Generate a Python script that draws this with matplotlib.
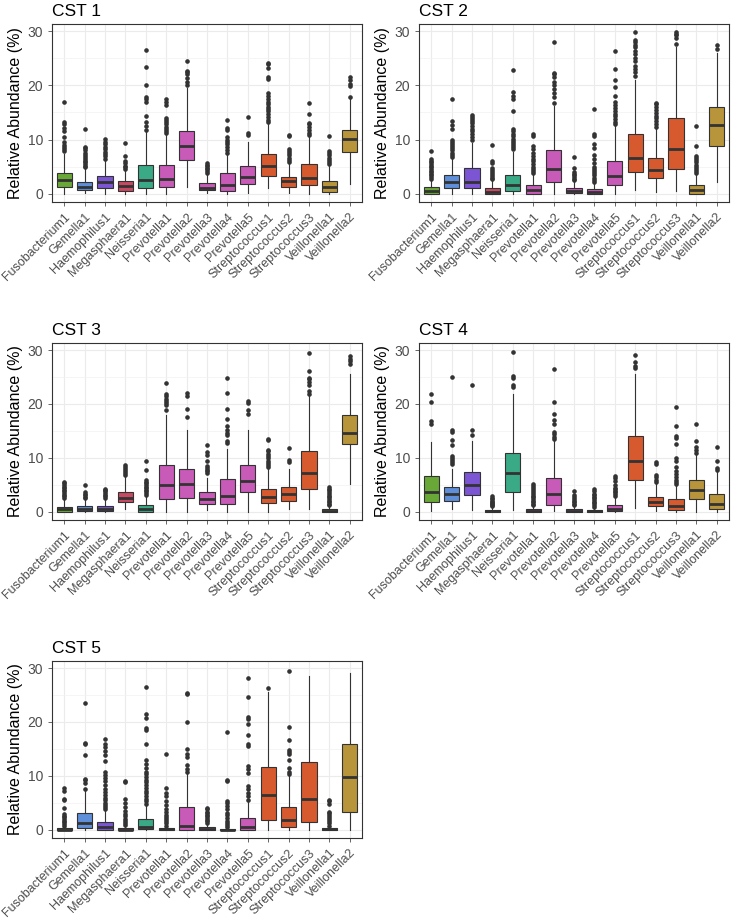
import matplotlib
matplotlib.use("Agg")
import matplotlib.pyplot as plt

plt.rcParams["font.family"] = ["Liberation Sans", "DejaVu Sans"]

taxa = ["Fusobacterium1", "Gemella1", "Haemophilus1", "Megasphaera1", "Neisseria1",
        "Prevotella1", "Prevotella2", "Prevotella3", "Prevotella4", "Prevotella5",
        "Streptococcus1", "Streptococcus2", "Streptococcus3", "Veillonella1", "Veillonella2"]

genus_colors = {
    "Fusobacterium": "#69a837", "Gemella": "#5f8fd8", "Haemophilus": "#7b55d3",
    "Megasphaera": "#c84a62", "Neisseria": "#3aa985", "Prevotella": "#c85ab8",
    "Streptococcus": "#d65a2e", "Veillonella": "#b8953b",
}

panels = ["CST 1", "CST 2", "CST 3", "CST 4", "CST 5"]

# ---- CST 1 ----
cst1_low = [0.0, 0.1, 0.0, 0.0, 0.0, 0.0, 1.2, 0.1, 0.0, 0.2, 1.0, 0.2, 0.0, 0.0, 1.8]
cst1_q1 = [1.23, 0.74, 1.1, 0.6, 1.0, 1.3, 6.2, 0.7, 0.6, 1.85, 3.3, 1.3, 1.6, 0.37, 7.65]
cst1_med = [2.6, 1.23, 2.1, 1.4, 2.5, 2.65, 8.8, 1.1, 1.7, 3.1, 5.1, 2.3, 3.0, 1.2, 10.05]
cst1_q3 = [3.77, 2.1, 3.33, 2.35, 5.37, 5.3, 11.6, 2.0, 3.8, 5.1, 7.3, 3.15, 5.55, 2.4, 11.8]
cst1_high = [7.3, 4.7, 6.3, 4.5, 11.4, 11.0, 19.5, 3.8, 7.4, 9.6, 13.0, 5.7, 10.5, 5.3, 17.5]
cst1_out = [
    [7.9, 8.3, 8.7, 9.0, 9.5, 10.4, 11.5, 12.1, 12.8, 13.2, 17.0],
    [4.9, 5.2, 5.5, 5.8, 6.1, 6.4, 6.8, 7.2, 7.6, 8.0, 8.4, 8.7, 11.9],
    [6.5, 6.9, 7.3, 7.8, 8.3, 8.7, 9.1, 9.6, 10.1],
    [4.6, 4.9, 5.2, 5.6, 6.0, 7.0, 9.3],
    [11.8, 12.5, 13.3, 14.4, 17.0, 17.4, 17.8, 20.0, 23.3, 26.6],
    [11.2, 11.6, 12.0, 12.4, 12.8, 13.2, 13.6, 14.0, 16.3, 17.0, 17.5],
    [20.0, 20.6, 21.3, 22.0, 22.4, 22.7, 24.5],
    [3.9, 4.2, 4.5, 4.8, 5.1, 5.4, 5.7],
    [7.6, 8.0, 8.6, 9.2, 9.6, 10.0, 10.5, 11.7, 12.1, 13.6],
    [10.8, 11.2, 14.2],
    [13.2, 13.7, 14.2, 14.8, 15.2, 15.6, 16.0, 16.5, 17.0, 17.5, 18.0, 18.6, 21.2, 21.5, 23.2, 24.0, 24.2],
    [5.9, 6.3, 6.7, 7.1, 7.5, 7.9, 8.2, 10.6, 10.9],
    [10.8, 11.3, 11.8, 12.3, 12.8, 13.1, 14.8, 16.8],
    [5.5, 5.9, 6.3, 6.7, 7.1, 7.5, 7.9, 10.6],
    [17.9, 19.8, 20.2, 21.0, 21.5],
]

# ---- CST 2 ----
cst2_low = [0.0, 0.0, 0.0, 0.0, 0.0, 0.0, 0.0, 0.0, 0.0, 0.0, 0.8, 0.3, 0.6, 0.0, 2.1]
cst2_q1 = [0.0, 1.1, 1.0, 0.0, 0.5, 0.05, 2.15, 0.1, 0.0, 1.6, 3.95, 2.85, 4.55, 0.0, 8.75]
cst2_med = [0.55, 2.1, 2.2, 0.35, 1.65, 0.7, 4.5, 0.5, 0.35, 3.25, 6.7, 4.4, 8.25, 0.8, 12.7]
cst2_q3 = [1.2, 3.4, 4.7, 1.05, 3.45, 1.55, 8.0, 1.05, 0.9, 6.05, 11.05, 6.6, 13.9, 1.65, 16.0]
cst2_high = [2.6, 6.6, 9.4, 2.5, 7.8, 3.6, 16.2, 2.3, 2.0, 12.5, 21.0, 12.0, 27.0, 3.6, 26.0]
cst2_out = [
    [2.8, 3.1, 3.4, 3.7, 4.0, 4.3, 4.6, 4.9, 5.2, 5.5, 5.8, 6.1, 6.4, 7.9],
    [6.8, 7.2, 7.6, 8.0, 8.4, 8.8, 9.2, 9.6, 10.0, 12.0, 12.7, 13.4, 17.5],
    [10.0, 10.5, 11.0, 11.5, 12.0, 12.5, 13.0, 13.4, 13.8, 14.2, 14.6],
    [2.7, 3.0, 3.3, 3.6, 4.0, 4.4, 4.8, 5.6, 6.1, 9.0],
    [8.2, 8.6, 9.0, 9.4, 9.8, 10.2, 10.6, 11.0, 11.6, 12.0, 15.2, 17.4, 18.0, 18.8, 22.8],
    [3.8, 4.2, 4.6, 5.0, 5.5, 6.0, 6.5, 7.0, 7.6, 8.2, 8.8, 10.6, 11.0],
    [16.8, 17.8, 18.6, 19.4, 20.0, 20.7, 21.5, 22.0, 22.3, 27.9],
    [2.5, 2.8, 3.1, 3.4, 3.7, 4.0, 4.7, 6.8],
    [2.2, 2.6, 3.0, 3.4, 3.8, 4.2, 4.6, 5.0, 5.6, 6.4, 7.2, 8.4, 9.2, 10.6, 11.1, 15.7],
    [12.8, 13.3, 13.8, 14.3, 14.8, 15.3, 15.8, 16.3, 16.9, 18.0, 19.6, 21.0, 23.0, 26.4],
    [21.8, 22.4, 23.0, 23.6, 24.4, 25.0, 25.8, 26.4, 27.0, 27.5, 28.0, 28.3, 29.9],
    [12.4, 12.9, 13.4, 13.9, 14.4, 14.9, 15.4, 16.0, 16.5, 16.8],
    [27.7, 28.8, 29.2, 29.5, 29.8],
    [3.8, 4.2, 4.6, 5.0, 5.4, 5.8, 6.2, 6.6, 7.0, 8.9, 12.5],
    [26.7, 27.5],
]

# ---- CST 3 ----
cst3_low = [0.0, 0.0, 0.0, 0.5, 0.0, 0.0, 0.0, 0.4, 0.0, 0.0, 0.0, 0.5, 0.6, 0.0, 5.1]
cst3_q1 = [0.0, 0.2, 0.2, 1.85, 0.05, 2.3, 2.65, 1.4, 1.5, 3.65, 1.65, 2.05, 4.25, 0.0, 12.5]
cst3_med = [0.55, 0.6, 0.55, 2.65, 0.55, 4.9, 5.25, 2.3, 3.0, 5.8, 2.75, 3.3, 7.15, 0.2, 14.6]
cst3_q3 = [1.0, 1.05, 1.1, 3.75, 1.25, 8.75, 8.0, 3.6, 6.05, 8.6, 4.3, 4.7, 11.2, 0.5, 18.0]
cst3_high = [2.4, 2.3, 2.4, 6.5, 3.0, 18.0, 15.2, 6.2, 11.7, 15.2, 8.0, 8.0, 21.5, 1.1, 25.5]
cst3_out = [
    [2.6, 2.9, 3.2, 3.5, 3.8, 4.1, 4.4, 4.7, 5.0, 5.3, 5.5],
    [2.5, 2.8, 3.1, 3.4, 3.7, 4.9],
    [2.6, 2.9, 3.2, 3.5, 3.8, 4.0, 4.2],
    [6.8, 7.2, 7.6, 8.0, 8.4, 8.7],
    [3.2, 3.5, 3.8, 4.1, 4.4, 4.7, 5.0, 5.3, 5.6, 6.0, 7.8, 9.5],
    [18.9, 19.8, 20.2, 20.6, 21.0, 21.5, 21.8, 23.9],
    [17.5, 19.0, 21.4, 22.0],
    [7.2, 7.5, 7.8, 8.1, 8.5, 9.4, 10.5, 11.1, 12.4],
    [12.8, 13.2, 14.3, 14.7, 15.2, 16.0, 17.2, 19.0, 22.0, 24.8],
    [18.2, 18.8, 20.2, 20.6],
    [8.3, 8.7, 9.1, 9.5, 9.9, 10.3, 10.8, 11.2, 11.5, 13.3, 13.6],
    [9.3, 9.6, 11.8],
    [21.8, 22.4, 23.5, 24.1, 24.6, 24.9, 26.2, 29.4],
    [1.2, 1.5, 1.8, 2.1, 2.4, 2.7, 3.0, 3.3, 3.6, 4.0, 4.3, 4.6],
    [27.5, 28.0, 28.4, 28.8],
]

# ---- CST 4 ----
cst4_low = [0.2, 0.6, 0.4, 0.0, 0.3, 0.0, 0.1, 0.0, 0.0, 0.0, 0.8, 0.1, 0.0, 0.0, 0.0]
cst4_q1 = [1.8, 2.05, 3.1, 0.0, 3.6, 0.0, 1.35, 0.0, 0.0, 0.1, 6.0, 1.1, 0.4, 2.45, 0.5]
cst4_med = [3.65, 3.3, 4.95, 0.1, 7.15, 0.15, 3.3, 0.15, 0.1, 0.55, 9.35, 1.85, 1.1, 4.0, 1.55]
cst4_q3 = [6.65, 4.55, 7.35, 0.4, 11.0, 0.45, 6.2, 0.45, 0.35, 1.2, 14.05, 2.85, 2.35, 5.9, 3.35]
cst4_high = [13.0, 8.0, 13.2, 1.0, 21.8, 1.1, 13.3, 1.1, 0.9, 2.8, 25.5, 5.2, 5.0, 10.5, 7.5]
cst4_out = [
    [16.2, 16.9, 20.3, 21.8],
    [8.8, 9.2, 9.6, 10.0, 10.4, 12.4, 13.4, 14.9, 15.2, 25.0],
    [14.3, 15.2, 23.5],
    [1.1, 1.3, 1.5, 1.7, 1.9, 2.1, 2.3, 2.6, 3.0],
    [23.2, 23.6, 24.9, 25.2, 29.6],
    [1.2, 1.5, 1.8, 2.1, 2.4, 2.7, 3.0, 3.3, 3.6, 4.0, 4.4, 4.8, 5.2],
    [13.6, 13.9, 14.4, 14.8, 16.3, 17.0, 18.2, 20.3, 26.5],
    [1.2, 1.5, 1.8, 2.1, 2.4, 2.8, 3.2, 3.9],
    [1.0, 1.3, 1.6, 1.9, 2.2, 2.5, 2.8, 3.1, 3.4, 3.8, 4.3],
    [3.0, 3.3, 3.6, 3.9, 4.2, 4.5, 5.0, 5.7, 6.2, 6.6],
    [26.7, 27.0, 27.8, 29.0],
    [5.5, 5.9, 6.4, 6.8, 8.8, 9.3],
    [5.2, 5.6, 6.0, 6.5, 7.0, 7.6, 8.3, 9.4, 10.0, 12.5, 13.7, 14.0, 16.0, 19.5],
    [11.0, 11.5, 12.0, 13.2, 16.2],
    [7.8, 8.2, 9.5, 12.0],
]

# ---- CST 5 ----
cst5_low = [0.0, 0.0, 0.0, 0.0, 0.0, 0.0, 0.0, 0.0, 0.0, 0.0, 0.0, 0.0, 0.0, 0.0, 0.0]
cst5_q1 = [0.0, 0.3, 0.05, 0.0, 0.2, 0.0, 0.05, 0.0, 0.0, 0.05, 1.8, 0.5, 1.55, 0.0, 3.3]
cst5_med = [0.05, 1.35, 0.55, 0.05, 0.45, 0.15, 0.8, 0.2, 0.03, 0.45, 6.45, 1.85, 5.8, 0.1, 9.8]
cst5_q3 = [0.3, 3.15, 1.55, 0.3, 2.0, 0.3, 4.25, 0.5, 0.1, 2.2, 11.65, 4.25, 12.6, 0.3, 16.0]
cst5_high = [0.75, 7.2, 3.6, 0.75, 4.6, 0.75, 10.5, 1.2, 0.25, 5.2, 25.5, 10.0, 28.6, 0.75, 29.1]
cst5_out = [
    [0.8, 1.1, 1.4, 1.7, 2.0, 2.3, 2.6, 3.0, 4.0, 5.5, 5.8, 7.3, 7.8],
    [7.6, 8.6, 9.2, 9.5, 13.8, 15.9, 16.1, 23.5],
    [3.8, 4.2, 4.6, 5.0, 5.5, 6.0, 6.5, 7.0, 7.6, 8.3, 9.0, 9.6, 10.2, 10.7, 12.8, 13.8, 14.6, 15.4, 16.0, 16.8],
    [0.9, 1.3, 1.7, 2.1, 2.5, 3.0, 3.5, 4.2, 5.0, 5.7, 8.8, 9.0],
    [4.8, 5.3, 5.8, 6.3, 6.8, 7.3, 7.8, 8.3, 8.8, 9.3, 9.8, 10.3, 10.8, 11.5, 12.2, 13.0, 16.0, 18.5, 18.9, 20.8, 21.4, 26.5],
    [0.8, 1.2, 1.6, 2.0, 2.4, 2.8, 3.3, 3.9, 4.6, 5.4, 6.2, 6.8, 7.8, 14.1],
    [10.7, 11.2, 12.0, 13.5, 14.0, 15.0, 20.0, 25.2, 25.4],
    [1.3, 1.6, 1.9, 2.2, 2.5, 2.8, 3.1, 3.4, 3.8, 4.1],
    [0.5, 0.9, 1.3, 1.7, 2.2, 2.7, 3.2, 3.8, 4.5, 5.0, 5.4, 9.0, 9.2, 18.1],
    [5.5, 6.2, 6.8, 7.5, 8.2, 10.5, 11.2, 11.8, 15.5, 16.0, 17.5, 19.7, 20.5, 21.0, 24.7, 28.2],
    [26.3],
    [10.3, 10.7, 11.5, 13.0, 14.0, 14.5, 14.8, 16.7, 19.0, 29.5],
    [],
    [0.8, 1.2, 1.6, 2.0, 2.4, 2.8, 3.1, 3.4, 4.8, 5.3, 5.6],
    [],
]

panel_data = [
    (cst1_low, cst1_q1, cst1_med, cst1_q3, cst1_high, cst1_out),
    (cst2_low, cst2_q1, cst2_med, cst2_q3, cst2_high, cst2_out),
    (cst3_low, cst3_q1, cst3_med, cst3_q3, cst3_high, cst3_out),
    (cst4_low, cst4_q1, cst4_med, cst4_q3, cst4_high, cst4_out),
    (cst5_low, cst5_q1, cst5_med, cst5_q3, cst5_high, cst5_out),
]

W, H = 734, 918
fig = plt.figure(figsize=(W / 100, H / 100), dpi=100)

# axes boxes in pixels: (left, top, right, bottom)
boxes = [(52, 24, 362, 202), (419, 24, 729, 202),
         (52, 343, 362, 520), (419, 343, 729, 520),
         (52, 661, 362, 838)]

dark = "#333333"
for name, (l, t, r, b), data in zip(panels, boxes, panel_data):
    ax = fig.add_axes([l / W, 1 - b / H, (r - l) / W, (b - t) / H])
    low, q1, med, q3, high, out = data
    stats = []
    for i in range(len(taxa)):
        stats.append({"whislo": low[i], "q1": q1[i], "med": med[i], "q3": q3[i],
                      "whishi": high[i], "fliers": out[i]})
    pos = list(range(1, len(taxa) + 1))
    bp = ax.bxp(stats, positions=pos, widths=0.75, patch_artist=True,
                showcaps=False, zorder=3,
                boxprops=dict(edgecolor=dark, linewidth=0.8),
                whiskerprops=dict(color=dark, linewidth=0.8),
                medianprops=dict(color=dark, linewidth=2.0, solid_capstyle="butt"),
                flierprops=dict(marker="o", markersize=2.3, markerfacecolor=dark,
                                markeredgecolor=dark, linestyle="none"))
    for patch, tx in zip(bp["boxes"], taxa):
        patch.set_facecolor(genus_colors[tx.rstrip("0123456789")])

    ax.set_xlim(0.4, len(taxa) + 0.6)
    ax.set_ylim(-1.5, 31.3)
    ax.set_xticks(pos)
    ax.set_xticklabels(taxa, rotation=45, ha="right", va="top",
                       rotation_mode="anchor", fontsize=9, color="#4d4d4d")
    ax.set_yticks([0, 10, 20, 30])
    ax.set_yticks([5, 15, 25], minor=True)
    ax.tick_params(axis="y", labelsize=10, colors="#4d4d4d", length=3, width=0.6)
    ax.tick_params(axis="x", colors="#4d4d4d", length=3, width=0.6)
    ax.tick_params(which="minor", length=0)
    ax.grid(True, which="major", color="#ebebeb", linewidth=0.8, zorder=0)
    ax.grid(True, which="minor", axis="y", color="#f2f2f2", linewidth=0.5, zorder=0)
    ax.set_axisbelow(True)
    for sp in ax.spines.values():
        sp.set_color(dark)
        sp.set_linewidth(0.8)
    ax.set_ylabel("Relative Abundance (%)", fontsize=11.5, labelpad=3)
    ax.set_title(name, loc="left", fontsize=12.5, pad=6)

fig.savefig("out.png", dpi=100)
